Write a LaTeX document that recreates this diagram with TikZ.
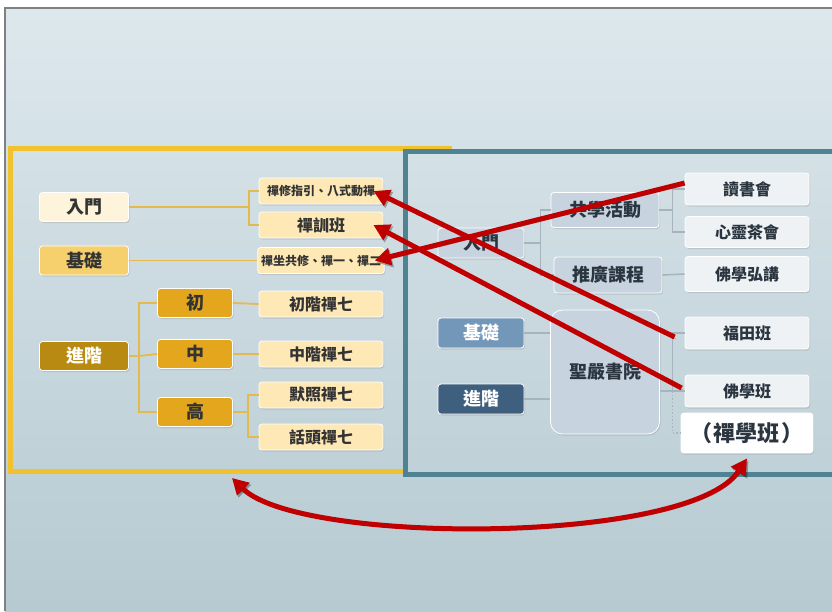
\documentclass[tikz,border=0pt]{standalone}
\usepackage{fontspec}
\newfontfamily\cjk{Noto Sans CJK TC}
\usetikzlibrary{arrows.meta,shadows}

\definecolor{bgtop}{HTML}{DDE8ED}
\definecolor{bgbot}{HTML}{B6CAD1}
\definecolor{yframe}{HTML}{F2C12E}
\definecolor{tframe}{HTML}{4F8391}
\definecolor{goldline}{HTML}{E6B94C}
\definecolor{grayline}{HTML}{A7B3BD}
\definecolor{creamA}{HTML}{FEF4DC}
\definecolor{creamB}{HTML}{FDE8B6}
\definecolor{goldA}{HTML}{F7D06E}
\definecolor{goldB}{HTML}{E3A61C}
\definecolor{goldC}{HTML}{B98A12}
\definecolor{blueA}{HTML}{C7D4E0}
\definecolor{blueB}{HTML}{7397B8}
\definecolor{blueC}{HTML}{3F5F7F}
\definecolor{whiteA}{HTML}{EFF2F5}
\definecolor{txtdark}{HTML}{333333}
\definecolor{txtblue}{HTML}{2A3540}
\definecolor{redarr}{HTML}{C00000}

\begin{document}
\begin{tikzpicture}[x=1pt,y=-1pt,
  box/.style={rounded corners=3pt, draw=white, line width=0.8pt, text=txtdark,
    font=\cjk\bfseries\fontsize{18}{18}\selectfont,
    drop shadow={opacity=0.25,shadow xshift=1pt,shadow yshift=-1.5pt}},
  lmain/.style={box, minimum width=89pt, minimum height=29pt},
  lmid/.style={box, fill=goldB, minimum width=75pt, minimum height=29pt},
  lend/.style={box, fill=creamB, minimum width=124pt, minimum height=26pt,
    font=\cjk\bfseries\fontsize{16}{16}\selectfont},
  small/.style={font=\cjk\bfseries\fontsize{12}{12}\selectfont},
  rmain/.style={box, minimum width=86pt, minimum height=30pt, text=white},
  rmid/.style={box, fill=blueA, text=txtblue, minimum width=108pt, minimum height=35pt},
  rend/.style={box, fill=whiteA, text=txtblue, minimum width=124pt, minimum height=32pt,
    font=\cjk\bfseries\fontsize{16}{16}\selectfont},
  gline/.style={draw=goldline, line width=1.8pt},
  rline/.style={draw=grayline, line width=1.5pt},
  redarrow/.style={draw=redarr, line width=5pt, -{Triangle[length=16pt,width=17pt]},
    preaction={draw=black, opacity=0.3, transform canvas={xshift=1.5pt,yshift=-2pt}}}]

\clip (0,0) rectangle (832,611);
\fill[white] (0,0) rectangle (832,611);
\shade[top color=bgtop, bottom color=bgbot] (5,8) rectangle (832,611);
\draw[gray, line width=1.2pt] (5,611) -- (5,8) -- (832,8);

% frames
\draw[yframe, line width=5pt] (452,148) -- (10,148) -- (10,471) -- (405,471);
\draw[tframe, line width=5pt] (840,151) -- (405,151) -- (405,474) -- (840,474);

% left side
\node[lmain, fill=creamA] (lrm) at (84,207) {入門};
\node[lmain, fill=goldA] (ljc) at (84,260.5) {基礎};
\node[lmain, fill=goldC, text=white] (ljj) at (84,356) {進階};
\node[lmid] (lc) at (195,303) {初};
\node[lmid] (lz) at (195,354) {中};
\node[lmid] (lg) at (195,412) {高};
\node[lend, small] (lzy) at (321,191) {禪修指引、八式動禪};
\node[lend] (lzx) at (321,225) {禪訓班};
\node[lend, small] (lzz) at (321,260.5) {禪坐共修、禪一、禪二};
\node[lend] (lc7) at (321,304) {初階禪七};
\node[lend] (lz7) at (321,354) {中階禪七};
\node[lend] (lm7) at (321,395) {默照禪七};
\node[lend] (lh7) at (321,437) {話頭禪七};

\draw[gline] (lrm.east) -- ++(120,0) coordinate (b1);
\draw[gline] (lzy.west) -| (b1) |- (lzx.west);
\draw[gline] (ljc.east) -- (lzz.west);
\draw[gline] (ljj.east) -- ++(10,0) coordinate (b2);
\draw[gline] (lc.west) -| (b2) |- (lg.west);
\draw[gline] (b2) -- (lz.west);
\draw[gline] (lc.east) -- (lc7.west);
\draw[gline] (lz.east) -- (lz7.west);
\draw[gline] (lg.east) -- ++(15,0) coordinate (b3);
\draw[gline] (lm7.west) -| (b3) |- (lh7.west);

% right side
\node[rmain, fill=blueA, text=txtblue] (rrm) at (481,243) {入門};
\node[rmain, fill=blueB] (rjc) at (481,333) {基礎};
\node[rmain, fill=blueC] (rjj) at (481,399) {進階};
\node[rmid] (rgx) at (605,210) {共學活動};
\node[rmid, minimum height=36pt] (rtg) at (608,275) {推廣課程};
\node[rmid, minimum width=109pt, minimum height=124pt, rounded corners=12pt] (rsy) at (605,372) {聖嚴書院};
\node[rend] (rds) at (747,189) {讀書會};
\node[rend, minimum height=31pt] (rxl) at (747,232) {心靈茶會};
\node[rend, minimum height=35pt] (rfx) at (747,274) {佛學弘講};
\node[rend] (rft) at (747,333) {福田班};
\node[rend] (rfb) at (747,391) {佛學班};
\node[rend, fill=white, minimum width=132pt, minimum height=40pt,
  font=\cjk\bfseries\fontsize{22}{22}\selectfont] (rcx) at (747,433) {（\hspace{2pt}禪學班\hspace{2pt}）};

\draw[rline] (rrm.east) -- ++(16,0) coordinate (b4);
\draw[rline] (rgx.west) -| (b4) |- (rtg.west);
\draw[rline] (rgx.east) -- ++(13,0) coordinate (b5);
\draw[rline] (rds.west) -| (b5) |- (rxl.west);
\draw[rline] (rtg.east) -- (rfx.west);
\draw[rline] (rjc.east) -- (rjc.east -| rsy.west);
\draw[rline] (rjj.east) -- (rjj.east -| rsy.west);
\draw[rline] (rsy.east |- rfb.west) -- (rfb.west);
\draw[rline] (rft.west) -- ++(-12,0) coordinate (b6) |- (rfb.west);
\draw[rline, dotted] (b6 |- rfb.west) |- (rcx.west);

% red arrows
\draw[redarrow] ([yshift=6pt]rds.west) -- ([xshift=-10pt]lzz.east);
\draw[redarrow] ([xshift=-10pt,yshift=-4pt]rft.west) -- ([xshift=-10pt]lzy.east);
\draw[redarrow] ([xshift=-3pt,yshift=3pt]rfb.west) -- ([xshift=-10pt]lzx.east);
\coordinate (cv) at (232,478);
\draw[redarrow, {Triangle[length=16pt,width=17pt]}-{Triangle[length=16pt,width=17pt]}]
  (cv) .. controls (300,545) and (690,545) .. ([yshift=-5pt]rcx.south);
\end{tikzpicture}
\end{document}
